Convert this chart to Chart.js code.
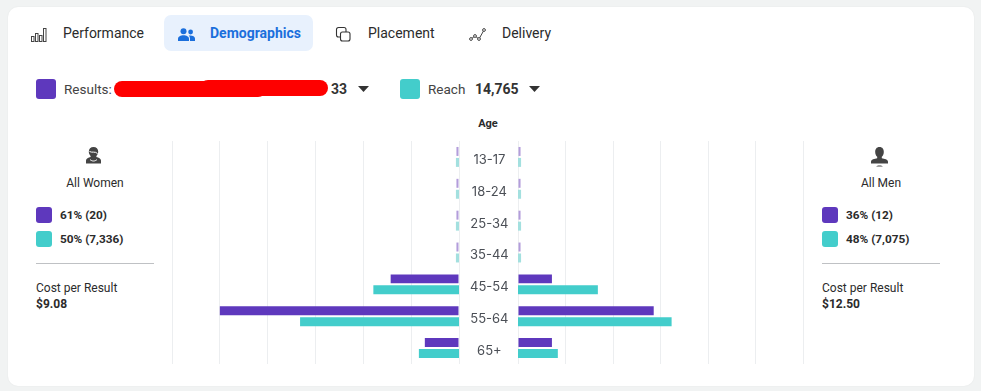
<!DOCTYPE html>
<html><head><meta charset="utf-8">
<script src="https://cdn.jsdelivr.net/npm/chart.js@4"></script>
<style>
html,body{margin:0;padding:0;width:981px;height:391px;overflow:hidden;background:#f1f3f3;font-family:Roboto,sans-serif;color:#2b2b2b}
#card{position:absolute;left:8px;top:7px;width:966px;height:379px;background:#fff;border-radius:10px;box-shadow:0 0 2px rgba(0,0,0,.06)}
.t{position:absolute;white-space:nowrap;line-height:16px;height:16px}
.sw{position:absolute;border-radius:3px}
.p{background:#5e38bd}.c{background:#43cdcb}
.b{font-weight:700}
canvas{position:absolute;display:block}
svg{position:absolute;overflow:visible}
.r{position:absolute;background:#fe0000;border-radius:8px}
.line{position:absolute;height:1px;background:#bfc1c4}
</style></head><body>
<div id="card"></div>

<svg style="left:31px;top:28px" width="16" height="14" fill="none" stroke="#444" stroke-width="1"><rect x=".5" y="8.5" width="2.5" height="5"/><rect x="4.5" y="5.5" width="2.5" height="8"/><rect x="8.5" y="7.5" width="2.5" height="6"/><rect x="12.5" y=".5" width="2.5" height="13"/></svg>
<div class="t" style="left:63px;top:25px;font-size:14px">Performance</div>
<div style="position:absolute;left:164px;top:15px;width:149px;height:36px;background:#e8f1fd;border-radius:7px"></div>
<svg style="left:178px;top:28px" width="17" height="13" fill="#1b6fdc"><circle cx="5.5" cy="3.2" r="3"/><circle cx="12.6" cy="4" r="2.4"/><path d="M0 13v-2.2C0 8.6 2.6 7.3 5.5 7.3s5.5 1.3 5.5 3.5V13z"/><path d="M12 13v-2.6c0-1.2-.6-2.1-1.3-2.8 3-.6 6.3.6 6.3 2.9V13z"/></svg>
<div class="t b" style="left:210px;top:25px;font-size:14px;color:#1b6fdc">Demographics</div>
<svg style="left:336px;top:27px" width="15" height="15" fill="#fff" stroke="#333" stroke-width="1.1"><rect x=".5" y=".5" width="9.5" height="9.5" rx="2"/><rect x="4.5" y="5" width="9.5" height="9" rx="2"/></svg>
<div class="t" style="left:368px;top:25px;font-size:14px">Placement</div>
<svg style="left:469px;top:28px" width="17" height="14" fill="#fff" stroke="#444" stroke-width="1"><path d="M2 11L6 8 10 11 15 2"/><circle cx="2" cy="11" r="1.4"/><circle cx="6" cy="8" r="1.4"/><circle cx="10" cy="11" r="1.4"/><circle cx="15" cy="2" r="1.4"/></svg>
<div class="t" style="left:502px;top:25px;font-size:14px">Delivery</div>

<div class="sw p" style="left:36px;top:79px;width:20px;height:20px"></div>
<div class="t" style="left:64px;top:81px;font-size:13.5px;color:#444">Results:</div>
<div class="r" style="left:114px;top:81px;width:152px;height:16px"></div>
<div class="r" style="left:200px;top:80px;width:128px;height:16px"></div>
<div class="t b" style="left:331px;top:81px;font-size:14px;color:#333">33</div>
<svg style="left:358px;top:86px" width="11" height="6" fill="#333"><path d="M0 0H11L5.5 6z"/></svg>
<div class="sw c" style="left:400px;top:79px;width:20px;height:20px"></div>
<div class="t" style="left:428px;top:81px;font-size:13.5px;color:#444">Reach</div>
<div class="t b" style="left:475px;top:81px;font-size:14px;color:#333">14,765</div>
<svg style="left:529px;top:86px" width="11" height="6" fill="#333"><path d="M0 0H11L5.5 6z"/></svg>

<div class="t b" style="left:458px;width:60px;text-align:center;top:116px;font-size:11px">Age</div>

<svg style="left:86px;top:147px" width="15" height="17" fill="#444"><path d="M7.5 0C4.6 0 2.8 2 2.8 4.6c0 2 .7 3.4 1.8 4.4v1C2.4 10.6 0 11.6 0 13.6V16.5h15v-2.9c0-2-2.4-3-4.6-3.6V9c1.1-1 1.8-2.4 1.8-4.4C12.2 2 10.4 0 7.5 0z"/><path d="M3.5 4.5C6 6 9 4 11.5 6.5" fill="none" stroke="#fff" stroke-width="1"/><path d="M4 12.5C6 14.5 9 14.5 11 12.5" fill="none" stroke="#fff" stroke-width="1"/></svg>
<div class="t" style="left:36px;width:118px;text-align:center;top:175px;font-size:12px">All Women</div>
<div class="sw p" style="left:36px;top:207px;width:16px;height:16px"></div>
<div class="t b" style="left:60px;top:207px;font-size:11.8px">61% (20)</div>
<div class="sw c" style="left:36px;top:231px;width:16px;height:16px"></div>
<div class="t b" style="left:60px;top:231px;font-size:11.8px">50% (7,336)</div>
<div class="line" style="left:36px;top:263px;width:118px"></div>
<div class="t" style="left:36px;top:280px;font-size:12px">Cost per Result</div>
<div class="t b" style="left:36px;top:296px;font-size:12px">$9.08</div>

<svg style="left:871px;top:147px" width="17" height="20" fill="#444"><path d="M8.5 0C5.5 0 4.2 2.2 4.2 5c0 2.2.8 3.8 2 4.8v1.4C3.5 11.7 0 12.5 0 14.7V16.5h17v-1.8c0-2.2-3.5-3-6.2-3.5V9.8c1.2-1 2-2.6 2-4.8C12.8 2.2 11.5 0 8.5 0z"/><path d="M5 19.5c1-1.5 6-1.5 7 0z"/></svg>
<div class="t" style="left:822px;width:118px;text-align:center;top:175px;font-size:12px">All Men</div>
<div class="sw p" style="left:822px;top:207px;width:16px;height:16px"></div>
<div class="t b" style="left:846px;top:207px;font-size:11.8px">36% (12)</div>
<div class="sw c" style="left:822px;top:231px;width:16px;height:16px"></div>
<div class="t b" style="left:846px;top:231px;font-size:11.8px">48% (7,075)</div>
<div class="line" style="left:822px;top:263px;width:118px"></div>
<div class="t" style="left:822px;top:280px;font-size:12px">Cost per Result</div>
<div class="t b" style="left:822px;top:296px;font-size:12px">$12.50</div>

<canvas id="women" width="347" height="224" style="left:172px;top:140px"></canvas>
<canvas id="men" width="290" height="224" style="left:518px;top:140px"></canvas>

<script>
const ageGroups = ['13-17','18-24','25-34','35-44','45-54','55-64','65+'];
const womenResults = [0.15,0.15,0.15,0.15,4,14,2];
const womenReach   = [80,80,80,80,2220,4120,1040];
const menResults   = [0.15,0.15,0.15,0.15,2,8,2];
const menReach     = [80,80,80,80,2085,4010,1040];
const resultsMax = 16.8, resultsStep = 2.8, reachMax = 7440;

function shade(strong, light, limit){
  return ctx => ctx.raw < limit ? light : strong;
}
function pyramid(id, results, reach, reversed, showLabels){
  new Chart(document.getElementById(id), {
    type:'bar',
    data:{labels:ageGroups, datasets:[
      {label:'Results', data:results, xAxisID:'x', backgroundColor:shade('#5e38bd','#b39ddb',1), barPercentage:.82, categoryPercentage:.6875},
      {label:'Reach', data:reach, xAxisID:'x2', backgroundColor:shade('#43cdcb','#a3e0df',100), barPercentage:.82, categoryPercentage:.6875}
    ]},
    options:{
      indexAxis:'y', responsive:false, animation:false,
      layout:{padding:{top:1,bottom:0,left:0,right:reversed?0:5}},
      plugins:{legend:{display:false},tooltip:{enabled:false},title:{display:false}},
      scales:{
        x:{type:'linear',min:0,max:resultsMax,reverse:reversed,position:'bottom',
           ticks:{display:false,stepSize:resultsStep},
           border:{display:false},
           grid:{color:'#eceef0',lineWidth:1,drawTicks:false}},
        x2:{type:'linear',min:0,max:reachMax,reverse:reversed,display:false,grid:{display:false}},
        y:{type:'category',position:'right',display:showLabels,
           grid:{display:false},border:{display:false},
           afterFit:s=>{ if(showLabels){s.width=60;} s.paddingTop=0; s.paddingBottom=0; },
           ticks:{padding:3,crossAlign:'center',labelOffset:3,autoSkip:false,maxRotation:0,
                  color:'#4b4f56',font:{family:'Inter',size:13}}}
      }
    }
  });
}
pyramid('women', womenResults, womenReach, true, true);
pyramid('men', menResults, menReach, false, false);
</script>
</body></html>
